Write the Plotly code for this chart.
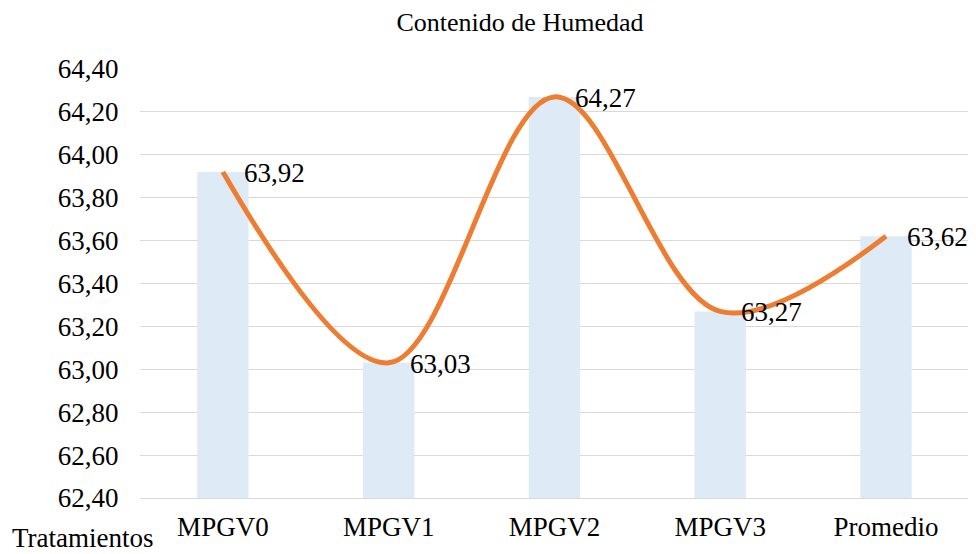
import plotly.graph_objects as go

categories = ["MPGV0", "MPGV1", "MPGV2", "MPGV3", "Promedio"]
values = [63.92, 63.03, 64.27, 63.27, 63.62]
label_texts = ["63,92", "63,03", "64,27", "63,27", "63,62"]
y_ticks = [62.4, 62.6, 62.8, 63.0, 63.2, 63.4, 63.6, 63.8, 64.0, 64.2, 64.4]
axis_base = 62.4

FONT = "Liberation Serif"

fig = go.Figure()
fig.add_trace(go.Bar(x=categories, y=[v - axis_base for v in values], base=axis_base,
                     marker=dict(color="#DEEAF6", line=dict(width=0)),
                     width=0.31, showlegend=False, hoverinfo="skip"))
fig.add_trace(go.Scatter(x=categories, y=values, mode="lines",
                         line=dict(color="#ED7D31", width=5, shape="spline", smoothing=1.0),
                         showlegend=False))

for c, v, t in zip(categories, values, label_texts):
    fig.add_annotation(x=c, y=v, text=t, showarrow=False, xanchor="left", yanchor="middle",
                       xshift=19, yshift=-1, font=dict(family=FONT, size=27, color="#000000"))

fig.add_annotation(xref="paper", yref="paper", x=-0.1566, y=-0.093, text="Tratamientos",
                   showarrow=False, xanchor="left", yanchor="middle",
                   font=dict(family=FONT, size=27, color="#000000"))

# page body has an 8px margin: compensate so the plot area sits at x 140-970, y 69-498
fig.update_layout(
    width=976, height=554,
    margin=dict(l=132, r=14, t=61, b=64, autoexpand=False),
    paper_bgcolor="white", plot_bgcolor="white",
    separators=",.",
    title=dict(text="Contenido de Humedad", x=512/976, xanchor="center", y=1 - 14/554, yanchor="middle",
               xref="container", yref="container",
               font=dict(family=FONT, size=26, color="#000000")),
    font=dict(family=FONT, size=27, color="#000000"),
)
fig.update_yaxes(range=[62.4, 64.4], tickvals=y_ticks, tickformat=".2f", showgrid=True,
                 gridcolor="#D9D9D9", gridwidth=1, zeroline=False, showline=False,
                 ticks="outside", ticklen=15, tickcolor="rgba(0,0,0,0)", automargin=False,
                 tickfont=dict(family=FONT, size=27, color="#000000"))
fig.update_xaxes(showline=True, linecolor="#D9D9D9", linewidth=1, ticks="outside", ticklen=5,
                 tickcolor="rgba(0,0,0,0)", automargin=False,
                 tickfont=dict(family=FONT, size=27, color="#000000"))

fig.write_html("out.html")
